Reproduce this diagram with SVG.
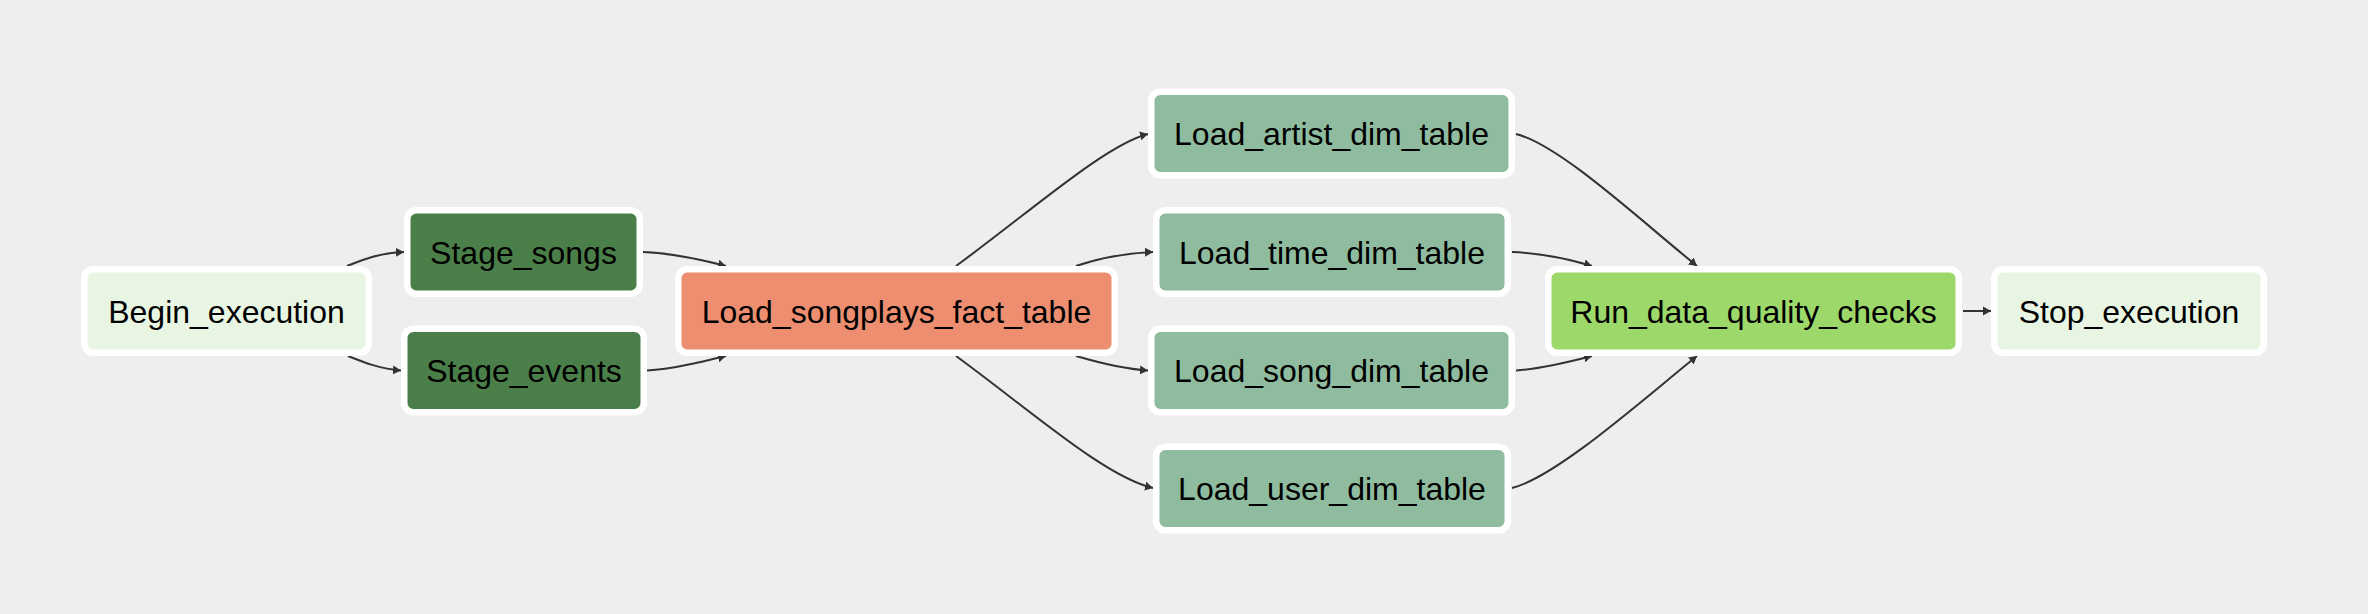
<svg xmlns="http://www.w3.org/2000/svg" width="2368" height="614" viewBox="0 0 2368 614">
<defs>
<style>
.n{stroke:#ffffff;stroke-width:6.5}
.t{font-family:"Liberation Sans",Arial,Helvetica,sans-serif;font-size:32px;fill:#000000;text-anchor:middle}
.e{fill:none;stroke:#333333;stroke-width:2}
.dummy{fill:#e9f5e3}
.stage{fill:#4b7f49}
.fact{fill:#ec8e6f}
.dim{fill:#8fbc9f}
.dq{fill:#9dd86b}
</style>
<marker id="ah" markerUnits="userSpaceOnUse" markerWidth="10" markerHeight="10" refX="8" refY="5" orient="auto">
<path d="M0,0.5 L8,5 L0,9.5 z" fill="#333333"/>
</marker>
</defs>
<rect width="2368" height="614" fill="#eeeeee"/>
<g id="connectors">
<path class="e" marker-end="url(#ah)" d="M347,266 C362,260 378,253 404,252"/>
<path class="e" marker-end="url(#ah)" d="M348,356 C363,362 380,369 401,370.5"/>
<path class="e" marker-end="url(#ah)" d="M643,252 C670,253 695,258 726,266"/>
<path class="e" marker-end="url(#ah)" d="M647,370.5 C672,369 697,363 726,356"/>
<path class="e" marker-end="url(#ah)" d="M956,266 C1030,212 1105,145 1148,134"/>
<path class="e" marker-end="url(#ah)" d="M1076,266 C1100,258 1125,253 1153,252"/>
<path class="e" marker-end="url(#ah)" d="M1076,356 C1100,363 1125,369 1148,370.5"/>
<path class="e" marker-end="url(#ah)" d="M956,356 C1030,410 1105,477 1153,488"/>
<path class="e" marker-end="url(#ah)" d="M1516,134 C1560,145 1640,220 1697,266"/>
<path class="e" marker-end="url(#ah)" d="M1512,252 C1540,253 1565,258 1592,266"/>
<path class="e" marker-end="url(#ah)" d="M1516,370.5 C1540,369 1565,363 1592,356"/>
<path class="e" marker-end="url(#ah)" d="M1512,488 C1556,477 1640,402 1697,356"/>
<path class="e" marker-end="url(#ah)" d="M1963,311 L1991,311"/>
</g>
<g id="Begin_execution">
<rect class="n dummy" x="84.25" y="269.25" width="284.5" height="83.5" rx="9"/>
<text class="t" x="226.5" y="322.5">Begin_execution</text>
</g>
<g id="Stage_songs">
<rect class="n stage" x="407.25" y="210.25" width="232.5" height="83.5" rx="9"/>
<text class="t" x="523.5" y="263.5">Stage_songs</text>
</g>
<g id="Stage_events">
<rect class="n stage" x="404.25" y="328.75" width="239.5" height="83.5" rx="9"/>
<text class="t" x="524" y="382">Stage_events</text>
</g>
<g id="Load_songplays_fact_table">
<rect class="n fact" x="678.25" y="269.25" width="436.5" height="83.5" rx="9"/>
<text class="t" x="896.5" y="322.5">Load_songplays_fact_table</text>
</g>
<g id="Load_artist_dim_table">
<rect class="n dim" x="1151.25" y="91.75" width="360.5" height="83.5" rx="9"/>
<text class="t" x="1331.5" y="145">Load_artist_dim_table</text>
</g>
<g id="Load_time_dim_table">
<rect class="n dim" x="1156.25" y="210.25" width="351.5" height="83.5" rx="9"/>
<text class="t" x="1332" y="263.5">Load_time_dim_table</text>
</g>
<g id="Load_song_dim_table">
<rect class="n dim" x="1151.25" y="328.75" width="360.5" height="83.5" rx="9"/>
<text class="t" x="1331.5" y="382">Load_song_dim_table</text>
</g>
<g id="Load_user_dim_table">
<rect class="n dim" x="1156.25" y="446.75" width="351.5" height="83.5" rx="9"/>
<text class="t" x="1332" y="500">Load_user_dim_table</text>
</g>
<g id="Run_data_quality_checks">
<rect class="n dq" x="1548.25" y="269.25" width="410.5" height="83.5" rx="9"/>
<text class="t" x="1753.5" y="322.5">Run_data_quality_checks</text>
</g>
<g id="Stop_execution">
<rect class="n dummy" x="1994.25" y="269.25" width="269.5" height="83.5" rx="9"/>
<text class="t" x="2129" y="322.5">Stop_execution</text>
</g>
</svg>
